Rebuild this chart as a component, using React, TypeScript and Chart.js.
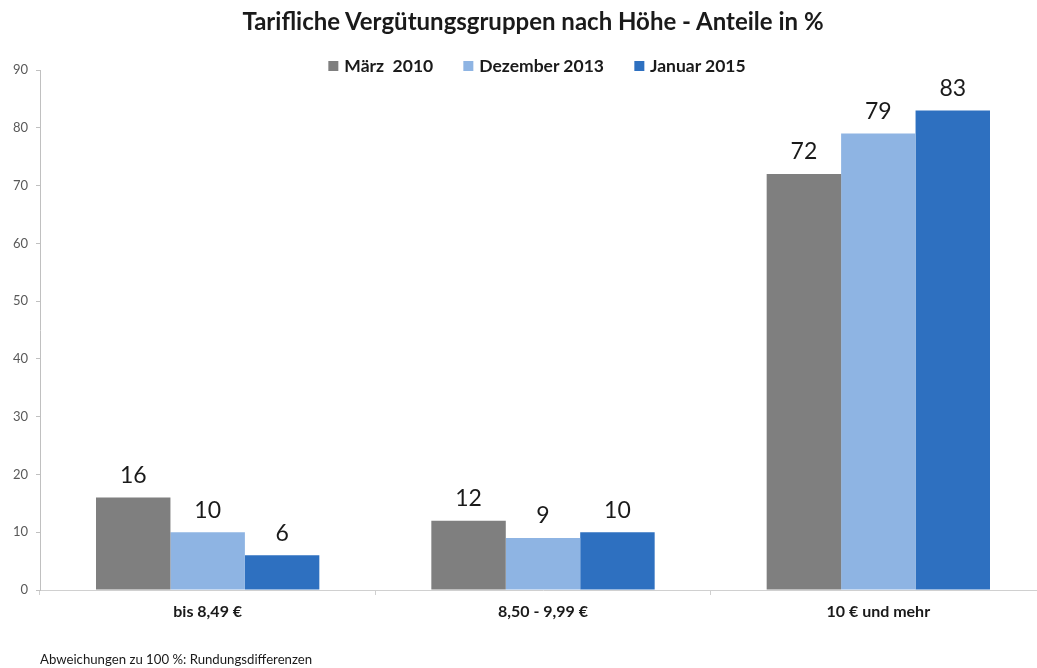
import React, { useEffect, useRef } from "react";
import { Chart, registerables } from "chart.js";
Chart.register(...registerables);

const titleText = "Tarifliche Vergütungsgruppen nach Höhe - Anteile in %";
const footnoteText = "Abweichungen zu 100 %: Rundungsdifferenzen";
const categories = ["bis 8,49 €", "8,50 - 9,99 €", "10 € und mehr"];
const seriesNames = ["März  2010", "Dezember 2013", "Januar 2015"];
const maerz2010 = [16, 12, 72];
const dezember2013 = [10, 9, 79];
const januar2015 = [6, 10, 83];
const seriesColors = ["#7f7f7f", "#8eb4e3", "#2e70c0"];
const yMin = 0;
const yMax = 90;
const yStep = 10;

const FONT = "Lato, 'Open Sans', sans-serif";

const dataLabels = {
  id: "dataLabels",
  afterDatasetsDraw(chart: any) {
    const ctx = chart.ctx;
    ctx.save();
    ctx.font = `23px ${FONT}`;
    ctx.fillStyle = "#1a1a1a";
    ctx.textAlign = "center";
    ctx.textBaseline = "middle";
    chart.data.datasets.forEach((ds: any, i: number) => {
      const meta = chart.getDatasetMeta(i);
      meta.data.forEach((bar: any, j: number) => {
        ctx.fillText(String(ds.data[j]), bar.x, bar.y - 22);
      });
    });
    ctx.restore();
  },
};

export default function App() {
  const ref = useRef<HTMLCanvasElement>(null);
  useEffect(() => {
    if (!ref.current) return;
    const seriesData = [maerz2010, dezember2013, januar2015];
    const chart = new Chart(ref.current, {
      type: "bar",
      data: {
        labels: categories,
        datasets: seriesNames.map((name, i) => ({
          label: name,
          data: seriesData[i],
          backgroundColor: seriesColors[i],
          borderWidth: 0,
          categoryPercentage: 0.666,
          barPercentage: 1,
        })),
      },
      options: {
        responsive: false,
        animation: false,
        layout: { padding: { top: 70, right: 4, left: 0, bottom: 0 } },
        plugins: {
          legend: { display: false },
          title: { display: false },
          tooltip: { enabled: false },
        },
        scales: {
          x: {
            grid: {
              drawOnChartArea: false,
              drawTicks: true,
              tickLength: 5,
              color: "#d0d0d0",
              offset: true,
            },
            border: { color: "#d0d0d0", width: 1 },
            ticks: {
              color: "#1a1a1a",
              padding: 7,
              font: { family: FONT, size: 16, weight: "bold" },
            },
            afterFit: (s: any) => {
              s.height = 78;
            },
          },
          y: {
            min: yMin,
            max: yMax,
            grid: {
              drawOnChartArea: false,
              drawTicks: true,
              tickLength: 4,
              color: "#c0c0c0",
            },
            border: { color: "#c0c0c0", width: 1 },
            ticks: {
              stepSize: yStep,
              color: "#595959",
              padding: 8,
              font: { family: FONT, size: 13 },
            },
            afterFit: (s: any) => {
              s.width = 40;
            },
          },
        },
      },
      plugins: [dataLabels],
    });
    return () => chart.destroy();
  }, []);

  return (
    <div
      style={{
        position: "fixed",
        left: 0,
        top: 0,
        width: 1037,
        height: 668,
        overflow: "hidden",
        background: "#fff",
        fontFamily: FONT,
      }}
    >
      <canvas
        ref={ref}
        width={1050}
        height={668}
        style={{ position: "absolute", left: 0, top: 0, width: 1050, height: 668 }}
      />
      <div
        style={{
          position: "absolute",
          left: 533,
          top: 6,
          transform: "translateX(-50%)",
          whiteSpace: "nowrap",
          fontWeight: "bold",
          fontSize: 24,
          lineHeight: "30px",
          color: "#1a1a1a",
        }}
      >
        {titleText}
      </div>
      <div
        style={{
          position: "absolute",
          left: 537,
          top: 55,
          transform: "translateX(-50%)",
          display: "flex",
          alignItems: "center",
          whiteSpace: "pre",
          fontWeight: "bold",
          fontSize: 17.5,
          lineHeight: "22px",
          color: "#1a1a1a",
        }}
      >
        {seriesNames.map((n, i) => (
          <div key={n} style={{ display: "flex", alignItems: "center", marginLeft: i ? 30 : 0 }}>
            <span
              style={{
                display: "inline-block",
                width: 10,
                height: 10,
                background: seriesColors[i],
                marginRight: 6,
              }}
            />
            <span>{n}</span>
          </div>
        ))}
      </div>
      <div
        style={{
          position: "absolute",
          left: 40,
          top: 651,
          whiteSpace: "pre",
          fontSize: 13.2,
          lineHeight: "16px",
          color: "#1a1a1a",
        }}
      >
        {footnoteText}
      </div>
    </div>
  );
}
